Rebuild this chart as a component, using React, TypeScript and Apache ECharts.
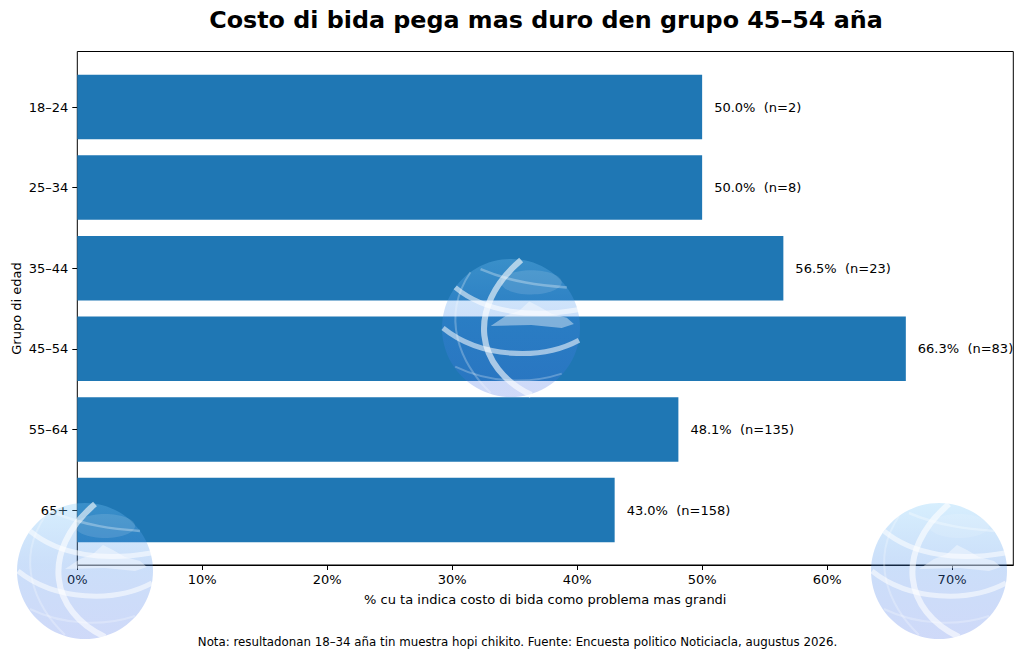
import React, { useEffect, useRef } from "react";
import * as echarts from "echarts";

const categories = ["18–24", "25–34", "35–44", "45–54", "55–64", "65+"];
const pctValues = [50.0, 50.0, 56.5, 66.3, 48.1, 43.0];
const nCounts = [2, 8, 23, 83, 135, 158];
const xTickValues = [0, 10, 20, 30, 40, 50, 60, 70];

const FONT = "DejaVu Sans";

function globe(cx: number, cy: number, r: number) {
  const s = r / 68;
  const white = (o: number) => `rgba(255,255,255,${o})`;
  const Z = 100;
  return {
    type: "group",
    x: cx,
    y: cy,
    z: Z,
    silent: true,
    children: [
      {
        type: "circle",
        z: Z,
        shape: { cx: 0, cy: 0, r },
        style: {
          fill: new echarts.graphic.LinearGradient(0, 0, 0, 1, [
            { offset: 0, color: "rgba(120,200,250,0.30)" },
            { offset: 0.45, color: "rgba(70,140,235,0.28)" },
            { offset: 1, color: "rgba(70,110,230,0.26)" },
          ]),
        },
      },
      {
        type: "bezierCurve",
        z: Z,
        shape: { x1: 10 * s, y1: -67 * s, cpx1: -45 * s, cpy1: -20 * s, cpx2: -35 * s, cpy2: 40 * s, x2: 20 * s, y2: 66 * s },
        style: { stroke: white(0.6), lineWidth: 6 * s, fill: "none" },
      },
      {
        type: "bezierCurve",
        z: Z,
        shape: { x1: -55 * s, y1: -40 * s, cpx1: -25 * s, cpy1: -15 * s, cpx2: 20 * s, cpy2: -10 * s, x2: 66 * s, y2: -18 * s },
        style: { stroke: white(0.55), lineWidth: 5 * s, fill: "none" },
      },
      {
        type: "bezierCurve",
        z: Z,
        shape: { x1: -67 * s, y1: 0, cpx1: -30 * s, cpy1: 30 * s, cpx2: 30 * s, cpy2: 32 * s, x2: 67 * s, y2: 12 * s },
        style: { stroke: white(0.55), lineWidth: 5 * s, fill: "none" },
      },
      {
        type: "bezierCurve",
        z: Z,
        shape: { x1: -30 * s, y1: -58 * s, cpx1: 0, cpy1: -45 * s, cpx2: 30 * s, cpy2: -42 * s, x2: 55 * s, y2: -40 * s },
        style: { stroke: white(0.3), lineWidth: 2.5 * s, fill: "none" },
      },
      {
        type: "bezierCurve",
        z: Z,
        shape: { x1: -40 * s, y1: -55 * s, cpx1: -70 * s, cpy1: -10 * s, cpx2: -50 * s, cpy2: 35 * s, x2: -20 * s, y2: 64 * s },
        style: { stroke: white(0.25), lineWidth: 2 * s, fill: "none" },
      },
      {
        type: "bezierCurve",
        z: Z,
        shape: { x1: -55 * s, y1: 38 * s, cpx1: -20 * s, cpy1: 55 * s, cpx2: 20 * s, cpy2: 55 * s, x2: 50 * s, y2: 45 * s },
        style: { stroke: white(0.25), lineWidth: 2 * s, fill: "none" },
      },
      {
        type: "polygon",
        z: Z,
        shape: {
          points: [
            [-20 * s, -2 * s],
            [-5 * s, -12 * s],
            [8 * s, -17 * s],
            [18 * s, -26 * s],
            [28 * s, -21 * s],
            [40 * s, -14 * s],
            [55 * s, -10 * s],
            [62 * s, -4 * s],
            [50 * s, 0],
            [20 * s, -3 * s],
          ],
        },
        style: { fill: white(0.4) },
      },
      {
        type: "ellipse",
        z: Z,
        shape: { cx: 20 * s, cy: -45 * s, rx: 30 * s, ry: 12 * s },
        style: { fill: white(0.12) },
      },
    ],
  };
}

export default function App() {
  const ref = useRef<HTMLDivElement>(null);
  useEffect(() => {
    document.body.style.margin = "0";
    if (!ref.current) return;
    const chart = echarts.init(ref.current, null, { renderer: "svg" });
    const left = 77.3;
    const right = 1024 - 1013.3;
    const xMax = 74.9;
    chart.setOption({
      animation: false,
      backgroundColor: "#ffffff",
      textStyle: { fontFamily: FONT },
      title: [
        {
          text: "Costo di bida pega mas duro den grupo 45–54 aña",
          left: 546,
          top: 8,
          padding: 0,
          textAlign: "center",
          textStyle: { fontFamily: FONT, fontWeight: "bold", fontSize: 23.8, color: "#000" },
        },
        {
          text: "Nota: resultadonan 18–34 aña tin muestra hopi chikito. Fuente: Encuesta politico Noticiacla, augustus 2026.",
          left: 517.5,
          top: 636,
          padding: 0,
          textAlign: "center",
          textStyle: { fontFamily: FONT, fontWeight: "normal", fontSize: 11.8, color: "#000" },
        },
      ],
      grid: [
        {
          left,
          right,
          top: 51.5,
          bottom: 95,
          show: true,
          borderColor: "#000",
          borderWidth: 1,
          backgroundColor: "transparent",
          outerBoundsMode: "none",
          containLabel: false,
        },
        { left, right, top: 66.7, height: 483.6, show: false, outerBoundsMode: "none", containLabel: false },
      ],
      xAxis: [
        {
          type: "value",
          gridIndex: 0,
          min: 0,
          max: xMax,
          name: "% cu ta indica costo di bida como problema mas grandi",
          nameLocation: "middle",
          nameGap: 28,
          nameMoveOverlap: false,
          nameTextStyle: { fontFamily: FONT, fontSize: 13, color: "#000" },
          axisLine: { show: true, lineStyle: { color: "#000", width: 1 } },
          axisTick: { show: true, length: 5, lineStyle: { color: "#000" }, customValues: xTickValues },
          axisLabel: {
            fontFamily: FONT,
            fontSize: 13,
            color: "#000",
            margin: 8,
            customValues: xTickValues,
            formatter: (v: number) => `${v}%`,
          },
          splitLine: { show: false },
        },
        { type: "value", gridIndex: 1, min: 0, max: xMax, show: false },
      ],
      yAxis: [
        { type: "value", gridIndex: 0, min: 0, max: 1, show: false },
        {
          type: "category",
          gridIndex: 1,
          data: categories,
          inverse: true,
          name: "Grupo di edad",
          nameLocation: "middle",
          nameGap: 54,
          nameMoveOverlap: false,
          nameTextStyle: { fontFamily: FONT, fontSize: 13, color: "#000" },
          axisLine: { show: false },
          axisTick: { show: true, alignWithLabel: true, length: 5, lineStyle: { color: "#000" } },
          axisLabel: { fontFamily: FONT, fontSize: 13, color: "#000", margin: 9 },
          splitLine: { show: false },
        },
      ],
      series: [
        {
          type: "bar",
          xAxisIndex: 1,
          yAxisIndex: 1,
          data: pctValues,
          barWidth: "80%",
          z: 2,
          itemStyle: { color: "#1f77b4" },
          label: {
            show: true,
            position: "right",
            distance: 12,
            fontFamily: FONT,
            fontSize: 13,
            color: "#000",
            formatter: (p: any) => `${pctValues[p.dataIndex].toFixed(1)}%  (n=${nCounts[p.dataIndex]})`,
          },
        },
      ],
      graphic: {
        elements: [globe(511, 328, 69), globe(85, 571, 68), globe(939, 571, 68)],
      },
    });
    return () => chart.dispose();
  }, []);
  return <div ref={ref} style={{ width: 1024, height: 660 }} />;
}
